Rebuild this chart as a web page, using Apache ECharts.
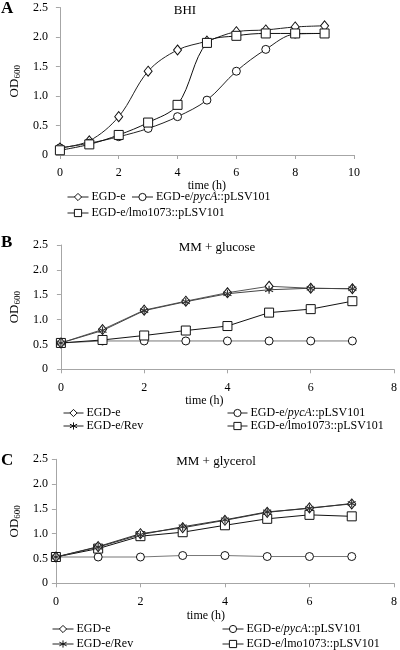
<!DOCTYPE html>
<html><head><meta charset="utf-8">
<script src="https://cdn.jsdelivr.net/npm/echarts@6/dist/echarts.min.js"></script>
<style>html,body{margin:0;padding:0;background:#fff}#c{width:400px;height:650px}</style>
</head><body><div id="c"></div>
<script>
// Panel A (BHI)
const hoursA = [0,1,2,3,4,5,6,7,8,9];
const bhiEGDe    = [0.12,0.24,0.65,1.42,1.78,1.93,2.09,2.12,2.17,2.19];
const bhiPycA    = [0.12,0.20,0.31,0.45,0.65,0.93,1.42,1.79,2.05,2.06];
const bhiLmo1073 = [0.08,0.18,0.34,0.55,0.85,1.90,2.02,2.06,2.06,2.06];
// Panel B (MM + glucose)
const hoursBC = [0,1,2,3,4,5,6,7];
const gluEGDe    = [0.53,0.80,1.19,1.37,1.54,1.67,1.63,1.62];
const gluRev     = [0.53,0.78,1.18,1.36,1.52,1.60,1.63,1.62];
const gluPycA    = [0.53,0.57,0.57,0.57,0.57,0.57,0.57,0.57];
const gluLmo1073 = [0.53,0.59,0.68,0.78,0.87,1.14,1.21,1.37];
// Panel C (MM + glycerol)
const glyEGDe    = [0.53,0.74,1.00,1.12,1.27,1.43,1.52,1.60];
const glyRev     = [0.53,0.73,0.98,1.14,1.28,1.44,1.51,1.61];
const glyPycA    = [0.53,0.53,0.53,0.56,0.56,0.54,0.54,0.54];
const glyLmo1073 = [0.53,0.70,0.95,1.03,1.17,1.30,1.38,1.35];

const panelTitles = ['BHI','MM + glucose','MM + glycerol'];
const panelLetters = ['A','B','C'];
const nEGDe = 'EGD-e', nPyc = 'EGD-e/pycA::pLSV101', nLmo = 'EGD-e/lmo1073::pLSV101', nRev = 'EGD-e/Rev';

const FONT = '"Liberation Serif","Times New Roman",serif';
const AX = '#a6a6a6';
const ASTER = 'path://M0,-10L0,10M-8.66,-5L8.66,5M-8.66,5L8.66,-5';

function pairs(xs, ys){ return xs.map((x,i)=>[x, ys[i]]); }

const styles = {
  [nEGDe]: {symbol:'diamond', symbolSize:[8,10], line:'#222'},
  [nPyc]:  {symbol:'circle', symbolSize:8, line:'#222'},
  [nLmo]:  {symbol:'rect', symbolSize:9, line:'#111'},
  [nRev]:  {symbol:ASTER, symbolSize:8, line:'#333'}
};
function ser(name, idx, xs, ys, opts){
  const s = styles[name];
  opts = opts || {};
  const isAst = name === nRev;
  return {
    type:'line', name, xAxisIndex:idx, yAxisIndex:idx,
    data: pairs(xs, ys), smooth: opts.smooth || false,
    symbol: s.symbol, symbolSize: s.symbolSize, showAllSymbol:true,
    lineStyle:{color: opts.line || s.line, width:1},
    itemStyle: isAst ? {color:'#333', borderColor:'#333', borderWidth:1.2}
                     : {color:'#fff', borderColor:'#111', borderWidth:1},
    emphasis:{disabled:true}, animation:false, z: opts.z || 2
  };
}

const grids = [
  {left:50, top:7.5, width:304, height:147.5},
  {left:50, top:245, width:347, height:124.3},
  {left:40.7, top:459.3, width:356.3, height:124}
];
const xMax = [10,8,8];
const xNameGap = [18,25,27];
const xNamePad = [[0,0,0,0],[0,46,0,0],[0,38,0,0]];
const yNameGap = [34,38,31];

const xAxes = grids.map((g,i)=>({
  type:'value', gridIndex:i, min:0, max:xMax[i], interval:2,
  axisLine:{show:true, lineStyle:{color:AX}}, axisTick:{show:true, inside:false, length:4, lineStyle:{color:AX}},
  splitLine:{show:false},
  axisLabel:{color:'#000', fontFamily:FONT, fontSize:12, margin:[12,13,13][i]},
  name:'time (h)', nameLocation:'middle', nameGap:xNameGap[i],
  nameTextStyle:{color:'#000', fontFamily:FONT, fontSize:12, padding:xNamePad[i]}
}));
const yAxes = grids.map((g,i)=>({
  type:'value', gridIndex:i, min:0, max:2.5, interval:0.5,
  axisLine:{show:true, lineStyle:{color:AX}}, axisTick:{show:true, length:4, lineStyle:{color:AX}},
  splitLine:{show:false},
  axisLabel:{color:'#000', fontFamily:FONT, fontSize:12, margin:[12,13,8][i],
    formatter:v=> v===0 ? '0' : v.toFixed(1)},
  name:'{a|OD}{b|600}', nameLocation:'middle', nameGap:yNameGap[i], nameRotate:90,
  nameTextStyle:{rich:{a:{fontFamily:FONT, fontSize:13, color:'#000'},
                       b:{fontFamily:FONT, fontSize:9, color:'#000', padding:[6,0,0,0]}}}
}));

const series = [
  ser(nEGDe,0,hoursA,bhiEGDe,{smooth:0.35}),
  ser(nPyc,0,hoursA,bhiPycA,{smooth:0.35}),
  ser(nLmo,0,hoursA,bhiLmo1073,{smooth:0.35,z:3}),
  ser(nPyc,1,hoursBC,gluPycA,{line:'#777'}),
  ser(nLmo,1,hoursBC,gluLmo1073),
  ser(nEGDe,1,hoursBC,gluEGDe,{line:'#555'}),
  ser(nRev,1,hoursBC,gluRev,{line:'#444'}),
  ser(nPyc,2,hoursBC,glyPycA,{line:'#777'}),
  ser(nLmo,2,hoursBC,glyLmo1073),
  ser(nEGDe,2,hoursBC,glyEGDe,{line:'#333'}),
  ser(nRev,2,hoursBC,glyRev,{line:'#333'})
];

const legRich = {n:{fontFamily:FONT,fontSize:12,color:'#000'}, i:{fontFamily:FONT,fontSize:12,color:'#000',fontStyle:'italic'}};
function leg(names, left, top, w){
  return {
    data:names, left, top, orient:'horizontal', itemGap:6, itemWidth:w||21, itemHeight:9,
    padding:0, selectedMode:false, inactiveColor:'#000',
    itemStyle:{borderWidth:1, borderColor:'#111'}, lineStyle:{width:1, color:'#222'},
    textStyle:{fontFamily:FONT, fontSize:12, color:'#000', padding:[0,0,0,-2], rich:legRich},
    formatter:n=> n===nPyc ? '{n|EGD-e/}{i|pycA}{n|::pLSV101}' : '{n|'+n+'}'
  };
}
const legends = [
  leg([nEGDe,nPyc], 67, 191),
  leg([nLmo], 67, 207),
  leg([nEGDe], 63, 407, 20),
  leg([nRev], 63, 420, 20),
  leg([nPyc], 227, 407, 20),
  leg([nLmo], 227, 420, 20),
  leg([nEGDe], 52, 623),
  leg([nRev], 52, 638),
  leg([nPyc], 222, 623),
  leg([nLmo], 222, 638)
];

const titles = [
  {text:panelTitles[0], left:185, top:4, textAlign:'center'},
  {text:panelTitles[1], left:217, top:241, textAlign:'center'},
  {text:panelTitles[2], left:216, top:455, textAlign:'center'}
].map(t=>Object.assign(t,{padding:0, textStyle:{fontFamily:FONT, fontSize:13, fontWeight:'normal', color:'#000'}}))
 .concat([
  {text:panelLetters[0], left:1, top:0},
  {text:panelLetters[1], left:1, top:234},
  {text:panelLetters[2], left:1, top:452}
].map(t=>Object.assign(t,{padding:0, textStyle:{fontFamily:FONT, fontSize:17, fontWeight:'bold', color:'#000'}})));

const chart = echarts.init(document.getElementById('c'), null, {renderer:'canvas'});
chart.setOption({
  animation:false, backgroundColor:'#fff',
  title:titles, grid:grids, xAxis:xAxes, yAxis:yAxes, legend:legends, series
});
</script></body></html>
